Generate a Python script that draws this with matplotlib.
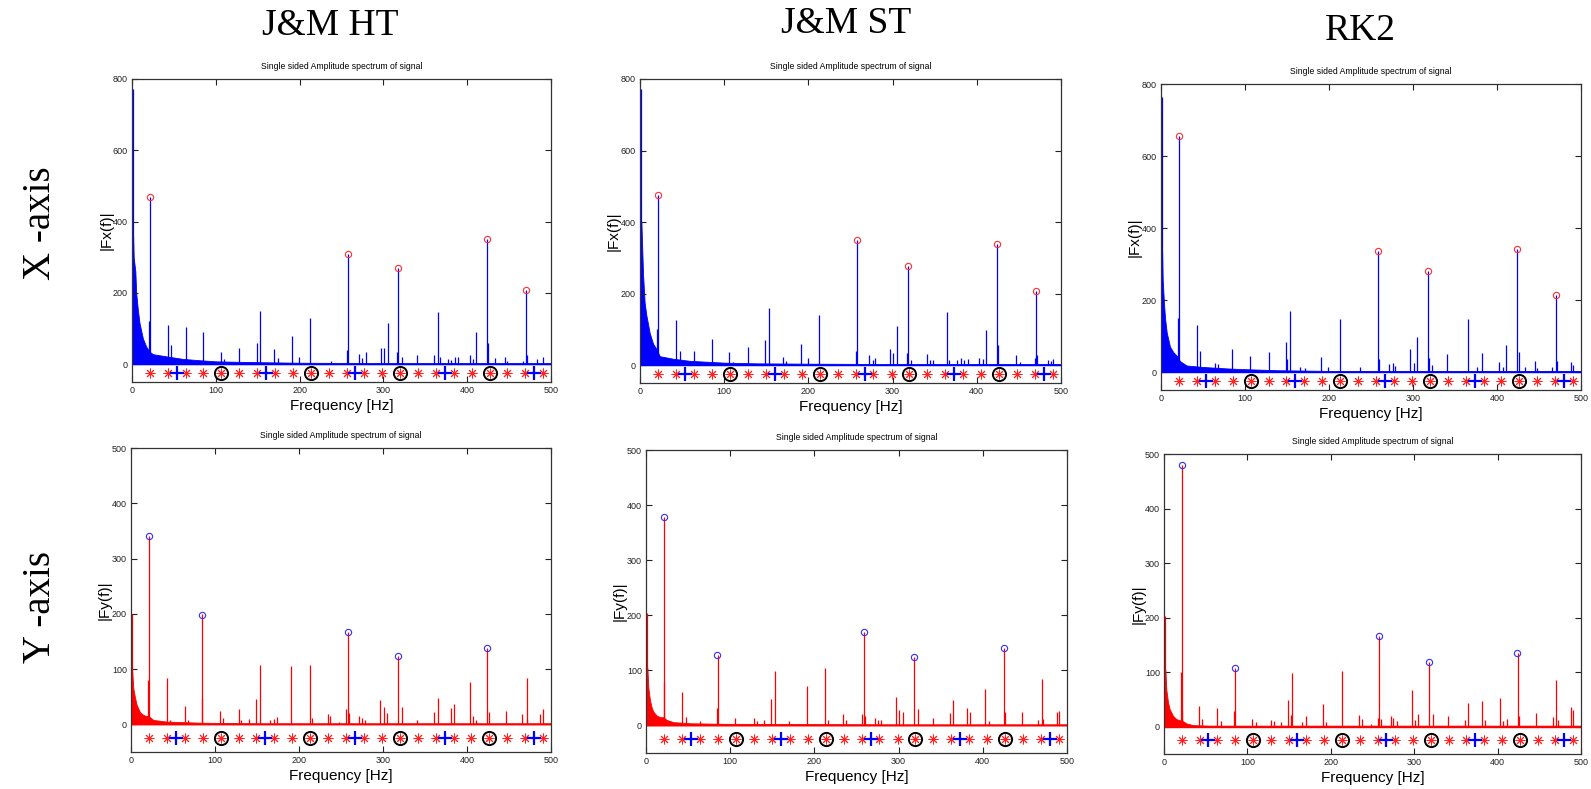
import matplotlib
matplotlib.use("Agg")
import matplotlib.pyplot as plt

# ---------------- data ----------------
COLUMNS = ["J&M HT", "J&M ST", "RK2"]
ROWS = ["X -axis", "Y -axis"]
TITLE = "Single sided Amplitude spectrum of signal"
XTICKS = [0, 100, 200, 300, 400, 500]
YTICKS_X = [0, 200, 400, 600, 800]
YTICKS_Y = [0, 100, 200, 300, 400, 500]

# marker row (characteristic frequencies)
ASTER_F = [21.3, 42.7, 64, 85.3, 106.7, 128, 149.3, 170.7, 192, 213.3, 234.7, 256,
           277.3, 298.7, 320, 341.3, 362.7, 384, 405.3, 426.7, 448, 469.3, 490.7]
PLUS_F = [53.3, 160, 266.7, 373.3, 480]
RING_F = [106.7, 213.3, 320, 426.7]
MARK_Y = -25

# ---- J&M HT, X ----
HTX_FLOOR_F = [0.8, 2, 4, 5, 7, 9, 13, 17, 21, 25, 41, 60, 81, 100, 140, 200, 300, 400, 500]
HTX_FLOOR_A = [405, 300, 260, 200, 152, 115, 72, 49, 35, 28, 22, 15, 11, 8, 6, 4, 3, 3, 3]
HTX_SPIKE_F = [1.0, 20.5, 21.3, 43, 46, 64, 85, 106, 110, 128, 149, 153, 170, 174, 191, 199, 213,
               237, 257, 258.3, 271, 275, 279, 297, 301, 305, 316, 318, 322, 340, 360, 365, 368,
               377, 381, 385, 389, 403, 407, 411, 423.7, 425, 433, 445, 448, 466, 470, 471.5, 483, 491]
HTX_SPIKE_A = [772, 120, 470, 110, 55, 105, 90, 35, 15, 45, 60, 150, 42, 18, 80, 20, 130,
               10, 40, 310, 28, 18, 35, 45, 45, 115, 35, 270, 20, 25, 25, 145, 20,
               15, 12, 20, 20, 25, 15, 90, 350, 60, 18, 20, 10, 10, 207, 25, 15, 20]
HTX_PEAK_F = [21.3, 258.3, 318, 423.7, 470]
HTX_PEAK_A = [470, 310, 270, 350, 207]

# ---- J&M ST, X ----
STX_FLOOR_F = [0.8, 1.6, 3.6, 5.5, 7.5, 11.5, 15.5, 19.5, 21.5, 23.4, 39, 59, 99, 138, 200, 300, 400, 500]
STX_FLOOR_A = [400, 400, 255, 175, 140, 90, 60, 45, 35, 25, 18, 12, 7, 5, 4, 3, 3, 3]
STX_SPIKE_F = [1.0, 20.5, 21.4, 43, 47, 64, 85, 106, 110, 128, 149, 153, 170, 173, 191, 199, 213,
               257, 258, 272, 277, 279, 297, 301, 305, 317, 318, 322, 341, 344, 348, 365, 367,
               377, 381, 385, 389, 403, 407, 411, 424, 425, 446, 451, 469, 470, 472, 484, 488, 491]
STX_SPIKE_A = [771, 100, 475, 125, 40, 40, 72, 37, 10, 50, 70, 160, 22, 12, 60, 20, 140,
               40, 350, 28, 15, 20, 45, 35, 108, 35, 277, 15, 30, 15, 15, 148, 15,
               15, 20, 15, 18, 20, 18, 98, 340, 55, 28, 10, 20, 207, 28, 15, 12, 18]
STX_PEAK_F = [21.4, 258, 318, 424, 470]
STX_PEAK_A = [475, 350, 277, 340, 208]

# ---- RK2, X ----
RKX_FLOOR_F = [0.8, 2, 3.6, 4.8, 6.8, 10.7, 14.7, 18.7, 22.7, 30.6, 50, 78, 98, 138, 200, 300, 400, 500]
RKX_FLOOR_A = [400, 256, 189, 150, 110, 70, 55, 45, 30, 18, 14, 10, 8, 5, 3, 3, 3, 3]
RKX_SPIKE_F = [1.0, 20.3, 21, 42.5, 46.5, 64, 68, 85, 106, 128, 149, 150.5, 153, 166, 171, 191, 199,
               213, 237, 258.4, 260, 272, 276, 279, 297, 301, 305, 318, 319, 323, 340, 365, 376,
               381.7, 402, 407, 411, 424, 426, 433, 445, 448, 466, 470.8, 472, 488, 490]
RKX_SPIKE_A = [765, 150, 655, 130, 57, 25, 22, 63, 45, 55, 82, 35, 170, 14, 12, 43, 15,
               147, 15, 337, 35, 22, 25, 18, 65, 25, 97, 280, 40, 20, 50, 148, 15,
               52, 28, 15, 75, 342, 55, 15, 30, 10, 15, 213, 30, 28, 20]
RKX_PEAK_F = [21, 258.4, 318, 424, 470.8]
RKX_PEAK_A = [655, 337, 280, 342, 213]

# ---- J&M HT, Y ----
HTY_FLOOR_F = [0.8, 1.2, 2.8, 4.8, 6.8, 10.7, 14.7, 18.7, 20.7, 26.6, 42.5, 82, 150, 300, 500]
HTY_FLOOR_A = [100, 100, 65, 48, 35, 22, 17, 15, 15, 8, 5, 3, 2, 2, 2]
HTY_SPIKE_F = [1.0, 20.3, 21, 43, 47, 64, 68, 84.5, 85, 106, 110, 128, 131, 140, 149, 153, 166,
               170, 174, 191, 213, 216, 234, 237, 248, 256, 258, 260, 272, 275, 278, 297, 301,
               305, 318, 323, 340, 361, 365, 381, 385, 403, 407, 411, 424, 426, 446, 466, 471,
               472, 487, 491]
HTY_SPIKE_A = [200, 80, 340, 83, 8, 33, 8, 47, 200, 24, 12, 28, 8, 10, 46, 107, 8,
               10, 13, 106, 108, 12, 18, 16, 5, 28, 168, 20, 16, 12, 8, 44, 31,
               20, 124, 31, 8, 22, 47, 30, 37, 76, 16, 8, 138, 23, 24, 18, 83,
               10, 18, 28]
HTY_PEAK_F = [21, 85, 258, 318, 424]
HTY_PEAK_A = [340, 198, 167, 124, 138]

# ---- J&M ST, Y ----
STY_FLOOR_F = [0.8, 1.6, 2.8, 4.8, 6.7, 8.7, 12.7, 16.7, 20.6, 24.6, 32.5, 52, 92, 300, 500]
STY_FLOOR_A = [105, 105, 68, 45, 33, 25, 18, 15, 15, 10, 6, 4, 3, 2, 2]
STY_SPIKE_F = [1.0, 20.8, 21.4, 43, 47, 64, 84.5, 85, 106, 128, 132, 140, 149, 153, 170, 191,
               212.5, 216, 234, 238, 256, 258.7, 260, 272, 276, 279, 297, 301, 305, 318.3, 323,
               341, 361, 365, 381, 385, 403, 407, 424.6, 426, 446, 466, 470.6, 472, 488, 491]
STY_SPIKE_A = [205, 78, 378, 60, 15, 8, 32, 128, 14, 14, 8, 10, 48, 98, 8, 72,
               105, 10, 20, 10, 20, 170, 18, 13, 10, 10, 51, 28, 24, 125, 30,
               13, 22, 47, 31, 25, 67, 8, 140, 25, 25, 10, 85, 12, 24, 27]
STY_PEAK_F = [21.4, 84.5, 258.7, 318.3, 424.6]
STY_PEAK_A = [379, 128, 170, 125, 140]

# ---- RK2, Y ----
RKY_FLOOR_F = [0.8, 1.6, 2.8, 4.8, 6.8, 10.8, 14.8, 18.9, 22.9, 26.9, 35, 55, 500]
RKY_FLOOR_A = [105, 105, 68, 45, 32, 20, 14, 12, 10, 6, 3, 2, 2]
RKY_SPIKE_F = [1.0, 20.8, 21.3, 22, 42.5, 46, 64, 68, 84.5, 85, 106, 110, 128, 132, 140, 149, 152,
               153, 166, 170, 191, 194, 213, 234, 238, 248, 256, 258, 260, 272, 275, 279, 297,
               301, 305, 318, 322, 341, 361, 365, 381, 385, 403, 407, 411, 424, 426, 446, 466,
               470.3, 472, 488, 491]
RKY_SPIKE_A = [203, 100, 480, 30, 38, 15, 35, 10, 28, 107, 15, 8, 12, 10, 8, 49, 22,
               98, 8, 20, 42, 8, 103, 22, 14, 5, 16, 166, 15, 20, 16, 10, 68,
               13, 23, 118, 24, 20, 12, 44, 47, 12, 53, 10, 15, 135, 20, 26, 17,
               85, 12, 37, 30]
RKY_PEAK_F = [21.3, 84.7, 258, 317.8, 423.4]
RKY_PEAK_A = [480, 107, 166, 119, 136]

# ---------------- layout ----------------
W, H = 1591, 789
fig = plt.figure(figsize=(W / 100, H / 100), dpi=100)
plt.rcParams['font.family'] = ['Liberation Sans', 'DejaVu Sans']

# axes boxes in pixels: left, right, top, bottom
BOXES = [
    [(132, 551, 79, 382), (640, 1061, 79, 383), (1161, 1581, 84, 390)],
    [(131, 551, 448, 752), (646, 1067, 450, 753), (1164, 1581, 454, 754)],
]

panels = [
    [(HTX_FLOOR_F, HTX_FLOOR_A, HTX_SPIKE_F, HTX_SPIKE_A, HTX_PEAK_F, HTX_PEAK_A),
     (STX_FLOOR_F, STX_FLOOR_A, STX_SPIKE_F, STX_SPIKE_A, STX_PEAK_F, STX_PEAK_A),
     (RKX_FLOOR_F, RKX_FLOOR_A, RKX_SPIKE_F, RKX_SPIKE_A, RKX_PEAK_F, RKX_PEAK_A)],
    [(HTY_FLOOR_F, HTY_FLOOR_A, HTY_SPIKE_F, HTY_SPIKE_A, HTY_PEAK_F, HTY_PEAK_A),
     (STY_FLOOR_F, STY_FLOOR_A, STY_SPIKE_F, STY_SPIKE_A, STY_PEAK_F, STY_PEAK_A),
     (RKY_FLOOR_F, RKY_FLOOR_A, RKY_SPIKE_F, RKY_SPIKE_A, RKY_PEAK_F, RKY_PEAK_A)],
]

for r in range(2):
    line_c = '#0000ff' if r == 0 else '#ff0000'
    peak_c = '#ff3030' if r == 0 else '#3030ff'
    ylab = '|Fx(f)|' if r == 0 else '|Fy(f)|'
    ytk = YTICKS_X if r == 0 else YTICKS_Y
    for c in range(3):
        l, rr, t, b = BOXES[r][c]
        ax = fig.add_axes([l / W, 1 - b / H, (rr - l) / W, (b - t) / H])
        ff, fa, sf, sa, pf, pa = panels[r][c]
        ax.fill_between(ff, 0, fa, color=line_c, lw=0.6)
        ax.plot([0, 500], [0, 0], color=line_c, lw=1.0)
        ax.vlines(sf, 0, sa, color=line_c, lw=0.9)
        ax.plot(pf, pa, 'o', mfc='none', mec=peak_c, ms=4.5, mew=0.8)
        ax.plot(ASTER_F, [MARK_Y] * len(ASTER_F), ls='none', marker=(8, 2, 0),
                color='#ff2020', ms=7, mew=0.7)
        ax.plot(PLUS_F, [MARK_Y] * len(PLUS_F), ls='none', marker='+',
                color='#0000ff', ms=10, mew=1.6)
        ax.plot(RING_F, [MARK_Y] * len(RING_F), ls='none', marker='o', mfc='none',
                mec='black', ms=9.5, mew=1.4)
        ax.set_xlim(0, 500)
        ax.set_ylim(-50, ytk[-1])
        ax.set_xticks(XTICKS)
        ax.set_yticks(ytk)
        ax.tick_params(direction='in', top=True, right=True, length=4, width=0.8,
                       labelsize=6.5, pad=3, colors='#222222', labelcolor='#222222')
        for s in ax.spines.values():
            s.set_color('#333333')
            s.set_linewidth(0.9)
        ax.set_title(TITLE, fontsize=6.2, pad=7)
        ax.set_ylabel(ylab, fontsize=11)
        ax.yaxis.set_label_coords(-0.045, 0.5)
        ax.set_xlabel('Frequency [Hz]', fontsize=11, labelpad=3)

# column and row headers
col_pos = [(330, 26), (846, 24), (1360, 31)]
for name, (x, y) in zip(COLUMNS, col_pos):
    fig.text(x / W, 1 - y / H, name, family='Liberation Serif', fontsize=27,
             ha='center', va='center')
row_pos = [(41, 223), (41, 607)]
for name, (x, y) in zip(ROWS, row_pos):
    fig.text(x / W, 1 - y / H, name, family='Liberation Serif', fontsize=28,
             ha='center', va='center', rotation=90)

fig.savefig('out.png', dpi=100)
